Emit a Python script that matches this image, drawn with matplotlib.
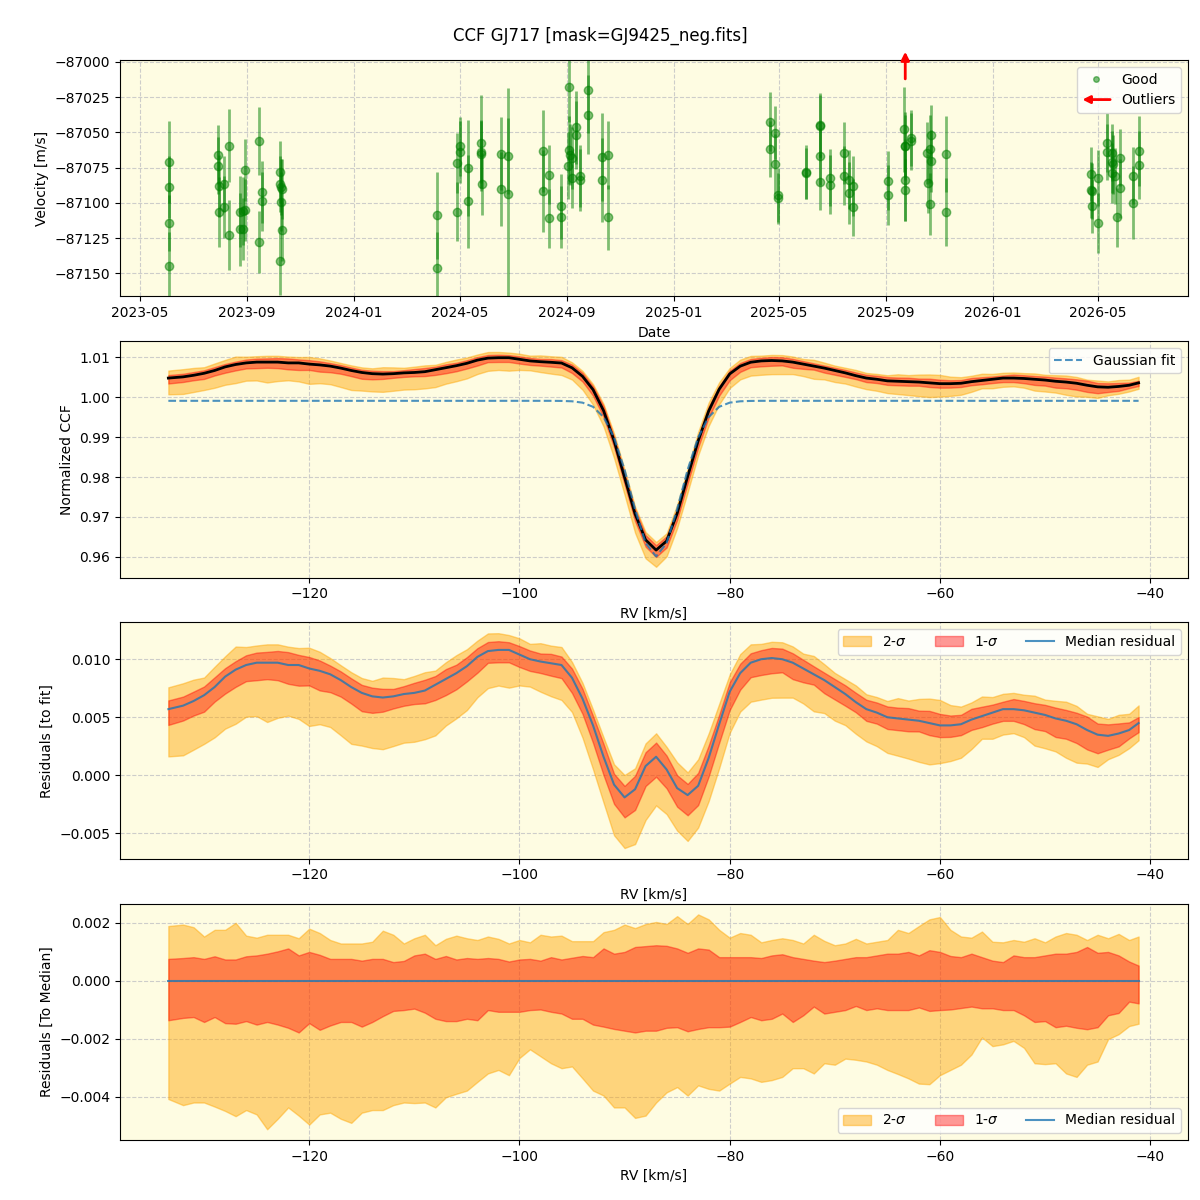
import numpy as np
import pandas as pd
import matplotlib
matplotlib.use("Agg")
import matplotlib.pyplot as plt
import matplotlib.dates as mdates
from matplotlib.lines import Line2D
from matplotlib.patches import FancyArrowPatch
from matplotlib.legend_handler import HandlerBase

# ---- top panel: RV time series (good points) ----
obs_dates = [
    "2023-06-03", "2023-06-03", "2023-06-03", "2023-06-03",
    "2023-07-30", "2023-07-30", "2023-07-31", "2023-07-31", "2023-08-05", "2023-08-05",
    "2023-08-11", "2023-08-11", "2023-08-24", "2023-08-24", "2023-08-27", "2023-08-27",
    "2023-08-30", "2023-08-29", "2023-09-14", "2023-09-14", "2023-09-18", "2023-09-18",
    "2023-10-08", "2023-10-09", "2023-10-09", "2023-10-10", "2023-10-10", "2023-10-11", "2023-10-11",
    "2024-04-05", "2024-04-05", "2024-04-28", "2024-04-28", "2024-05-02", "2024-05-02",
    "2024-05-11", "2024-05-11", "2024-05-25", "2024-05-25", "2024-05-26", "2024-05-27",
    "2024-06-17", "2024-06-17", "2024-06-25", "2024-06-25",
    "2024-08-05", "2024-08-05", "2024-08-11", "2024-08-11", "2024-08-25", "2024-08-25",
    "2024-09-03", "2024-09-03", "2024-09-04", "2024-09-02", "2024-09-07", "2024-09-07",
    "2024-09-11", "2024-09-11", "2024-09-16", "2024-09-16", "2024-09-25", "2024-09-25",
    "2024-10-11", "2024-10-11", "2024-10-18", "2024-10-18",
    "2025-04-21", "2025-04-21", "2025-04-27", "2025-04-27", "2025-04-30", "2025-04-30",
    "2025-06-01", "2025-06-01", "2025-06-18", "2025-06-18", "2025-06-18", "2025-06-18",
    "2025-06-29", "2025-06-29", "2025-07-15", "2025-07-15", "2025-07-21", "2025-07-21",
    "2025-07-25", "2025-07-25", "2025-09-03", "2025-09-03",
    "2025-09-22", "2025-09-23", "2025-09-23", "2025-09-23", "2025-09-23", "2025-09-30", "2025-09-30",
    "2025-10-18", "2025-10-21", "2025-10-23", "2025-10-23", "2025-10-19", "2025-10-21",
    "2025-11-09", "2025-11-09",
    "2026-04-23", "2026-04-24", "2026-04-25", "2026-04-25", "2026-05-01", "2026-05-01",
    "2026-05-12", "2026-05-12", "2026-05-18", "2026-05-18", "2026-05-19", "2026-05-18",
    "2026-05-21", "2026-05-27", "2026-05-27", "2026-05-23",
    "2026-06-11", "2026-06-11", "2026-06-18", "2026-06-18",
]
obs_rv = [
    -87071.0, -87088.8, -87114.3, -87145.0,
    -87066.0, -87073.6, -87088.0, -87106.4, -87086.7, -87103.3,
    -87059.5, -87123.0, -87106.2, -87118.8, -87106.0, -87118.8,
    -87105.2, -87076.7, -87056.0, -87127.9, -87092.1, -87099.0,
    -87141.4, -87078.0, -87086.7, -87088.6, -87099.3, -87090.2, -87119.3,
    -87108.8, -87146.0, -87071.7, -87106.4, -87059.8, -87064.0,
    -87075.2, -87098.8, -87057.4, -87064.0, -87065.5, -87086.7,
    -87065.2, -87090.2, -87067.1, -87093.8,
    -87063.0, -87091.7, -87080.2, -87111.0, -87102.4, -87110.2,
    -87017.6, -87062.4, -87065.7, -87073.6, -87068.3, -87082.6,
    -87046.4, -87051.7, -87081.2, -87083.6, -87020.2, -87037.4,
    -87067.4, -87083.8, -87066.0, -87110.2,
    -87042.4, -87061.7, -87050.2, -87072.4, -87094.5, -87096.9,
    -87078.3, -87079.0, -87045.0, -87045.7, -87067.1, -87085.0,
    -87082.1, -87087.1, -87064.3, -87080.7, -87083.6, -87092.9,
    -87088.1, -87103.3, -87084.3, -87094.5,
    -87047.9, -87059.5, -87060.0, -87083.8, -87091.0, -87054.0, -87056.4,
    -87064.3, -87061.7, -87051.7, -87070.2, -87086.0, -87100.7,
    -87065.2, -87106.4,
    -87079.5, -87090.7, -87091.4, -87102.1, -87082.4, -87114.3,
    -87057.4, -87064.0, -87064.3, -87070.7, -87072.6, -87078.8,
    -87081.2, -87067.9, -87089.8, -87110.2,
    -87080.7, -87100.0, -87063.1, -87073.1,
]
obs_err = [
    29, 22, 20, 24,
    21, 20, 22, 25, 20, 22,
    26, 25, 25, 26, 24, 22,
    22, 22, 24, 22, 22, 21,
    24, 22, 20, 20, 21, 21, 22,
    31, 25, 21, 21, 21, 22,
    34, 33, 34, 22, 24, 22,
    26, 26, 27, 75,
    29, 29, 21, 21, 23, 22,
    25, 24, 22, 24, 22, 21,
    26, 24, 22, 22, 30, 28,
    31, 30, 24, 23,
    21, 20, 19, 21, 19, 18,
    19, 18, 23, 22, 20, 20,
    20, 21, 22, 21, 21, 22,
    21, 20, 21, 21,
    30, 24, 22, 29, 22, 20, 20,
    22, 24, 21, 22, 21, 22,
    27, 24,
    19, 20, 20, 19, 20, 21,
    21, 20, 20, 22, 21, 21,
    20, 20, 21, 21,
    20, 26, 25, 24,
]
outlier_dates = ["2025-09-23"]

# ---- CCF panels ----
# km/s: -133.4, -132 ... -42, -41.1
rv_grid = np.concatenate(([-133.4], np.arange(-132.0, -41.0, 1.0), [-41.1]))

gauss_fit = [0.9991] * 37 + [
    0.99907, 0.99898, 0.99864, 0.9976, 0.99504, 0.98994, 0.98183, 0.97195, 0.96347,
    0.9601,
    0.96347, 0.97195, 0.98183, 0.98994, 0.99504, 0.9976, 0.99864, 0.99898, 0.99907,
] + [0.9991] * 37

median_resid = [
    0.0057, 0.0060, 0.0064, 0.0069, 0.0076, 0.0085, 0.0091, 0.0095, 0.0097, 0.0097,
    0.0097, 0.0095, 0.0095, 0.0092, 0.0090, 0.0087, 0.0082, 0.0076, 0.0071, 0.0068,
    0.0067, 0.0068, 0.0070, 0.0071, 0.0073, 0.0078, 0.0083, 0.0088, 0.0094, 0.0102,
    0.0107, 0.0108, 0.0108, 0.0104, 0.0100, 0.0098, 0.00965, 0.0095, 0.0084, 0.0066,
    0.0043, 0.0016, -0.0008, -0.0019, -0.0012, 0.0008, 0.0016, 0.0005, -0.0011, -0.0017,
    -0.0009, 0.0015, 0.0044, 0.0072, 0.0088, 0.0097, 0.0100, 0.0101, 0.0100, 0.0097,
    0.0092, 0.0087, 0.0082, 0.0076, 0.0070, 0.0063, 0.0057, 0.0054, 0.0050, 0.0049,
    0.0048, 0.0047, 0.0045, 0.0043, 0.0043, 0.0044, 0.0048, 0.0051, 0.0054, 0.0057,
    0.0057, 0.0056, 0.0054, 0.0052, 0.0049, 0.0047, 0.0044, 0.0039, 0.0035, 0.0034,
    0.0036, 0.0039, 0.0045,
]

# spread around the median (as seen in the bottom panel)
hi2 = [
    0.00188, 0.00193, 0.00184, 0.00152, 0.00175, 0.00175, 0.00199, 0.00155, 0.00148, 0.00158,
    0.00158, 0.00158, 0.00146, 0.00179, 0.00164, 0.00140, 0.00128, 0.00128, 0.00128, 0.00134,
    0.00172, 0.00158, 0.00128, 0.00146, 0.00158, 0.00122, 0.00144, 0.00155, 0.00146, 0.00140,
    0.00152, 0.00144, 0.00128, 0.00140, 0.00132, 0.00158, 0.00152, 0.00155, 0.00136, 0.00136,
    0.00136, 0.00167, 0.00175, 0.00193, 0.00181, 0.00195, 0.00202, 0.00195, 0.00222, 0.00195,
    0.00228, 0.00211, 0.00175, 0.00148, 0.00164, 0.00158, 0.00132, 0.00140, 0.00146, 0.00140,
    0.00128, 0.00158, 0.00137, 0.00122, 0.00128, 0.00144, 0.00128, 0.00134, 0.00140, 0.00175,
    0.00164, 0.00188, 0.00211, 0.00219, 0.00175, 0.00152, 0.00148, 0.00169, 0.00134, 0.00132,
    0.00140, 0.00134, 0.00146, 0.00132, 0.00152, 0.00164, 0.00158, 0.00140, 0.00158, 0.00146,
    0.00161, 0.00140, 0.00152,
]
hi1 = [
    0.00075, 0.00078, 0.00081, 0.00075, 0.00084, 0.00073, 0.00073, 0.00084, 0.00087, 0.00093,
    0.00101, 0.00111, 0.00087, 0.00099, 0.00089, 0.00075, 0.00075, 0.00075, 0.00069, 0.00075,
    0.00075, 0.00064, 0.00068, 0.00087, 0.00093, 0.00075, 0.00085, 0.00073, 0.00078, 0.00075,
    0.00078, 0.00075, 0.00066, 0.00073, 0.00075, 0.00069, 0.00081, 0.00073, 0.00079, 0.00085,
    0.00081, 0.00111, 0.00093, 0.00099, 0.00116, 0.00119, 0.00122, 0.00120, 0.00111, 0.00096,
    0.00111, 0.00107, 0.00081, 0.00081, 0.00081, 0.00081, 0.00078, 0.00087, 0.00091, 0.00081,
    0.00075, 0.00069, 0.00064, 0.00069, 0.00075, 0.00081, 0.00081, 0.00087, 0.00093, 0.00093,
    0.00099, 0.00087, 0.00105, 0.00099, 0.00085, 0.00081, 0.00093, 0.00081, 0.00069, 0.00064,
    0.00087, 0.00081, 0.00081, 0.00087, 0.00093, 0.00093, 0.00099, 0.00116, 0.00096, 0.00099,
    0.00087, 0.00066, 0.00052,
]
lo1 = [
    -0.00136, -0.00128, -0.00125, -0.00142, -0.00125, -0.00146, -0.00148, -0.00139, -0.00151, -0.00142,
    -0.00151, -0.00162, -0.00178, -0.00146, -0.00169, -0.00154, -0.00142, -0.00142, -0.00158, -0.00142,
    -0.00122, -0.00104, -0.00101, -0.00096, -0.00110, -0.00131, -0.00139, -0.00139, -0.00131, -0.00136,
    -0.00101, -0.00107, -0.00107, -0.00107, -0.00101, -0.00099, -0.00107, -0.00113, -0.00131, -0.00131,
    -0.00151, -0.00158, -0.00166, -0.00172, -0.00178, -0.00172, -0.00172, -0.00162, -0.00160, -0.00174,
    -0.00166, -0.00160, -0.00160, -0.00158, -0.00142, -0.00125, -0.00136, -0.00131, -0.00113, -0.00142,
    -0.00119, -0.00089, -0.00113, -0.00107, -0.00101, -0.00087, -0.00101, -0.00095, -0.00101, -0.00101,
    -0.00101, -0.00092, -0.00104, -0.00101, -0.00099, -0.00094, -0.00089, -0.00095, -0.00095, -0.00101,
    -0.00101, -0.00119, -0.00142, -0.00139, -0.00160, -0.00155, -0.00162, -0.00167, -0.00160, -0.00119,
    -0.00111, -0.00072, -0.00078,
]
lo2 = [
    -0.00407, -0.00428, -0.00419, -0.00419, -0.00433, -0.00448, -0.00466, -0.00445, -0.00460, -0.00511,
    -0.00475, -0.00436, -0.00464, -0.00495, -0.00460, -0.00454, -0.00475, -0.00489, -0.00454, -0.00445,
    -0.00445, -0.00428, -0.00419, -0.00421, -0.00419, -0.00436, -0.00401, -0.00389, -0.00378, -0.00348,
    -0.00319, -0.00307, -0.00325, -0.00266, -0.00236, -0.00260, -0.00284, -0.00301, -0.00295, -0.00336,
    -0.00378, -0.00395, -0.00436, -0.00436, -0.00472, -0.00464, -0.00419, -0.00384, -0.00366, -0.00395,
    -0.00360, -0.00372, -0.00378, -0.00354, -0.00331, -0.00336, -0.00348, -0.00342, -0.00331, -0.00301,
    -0.00301, -0.00319, -0.00284, -0.00289, -0.00268, -0.00272, -0.00278, -0.00289, -0.00307, -0.00321,
    -0.00336, -0.00354, -0.00356, -0.00325, -0.00307, -0.00289, -0.00254, -0.00195, -0.00225, -0.00219,
    -0.00207, -0.00231, -0.00284, -0.00287, -0.00284, -0.00319, -0.00331, -0.00289, -0.00278, -0.00201,
    -0.00184, -0.00156, -0.00148,
]


class ArrowHandler(HandlerBase):
    # legend entry: red arrow pointing left
    def create_artists(self, legend, orig_handle, xdescent, ydescent,
                       width, height, fontsize, trans):
        y = height / 2 - ydescent
        p = FancyArrowPatch((width - xdescent, y), (-xdescent, y), arrowstyle='-|>',
                            mutation_scale=11, lw=2, color='red', transform=trans,
                            shrinkA=0, shrinkB=0)
        return [p]


gfit = np.array(gauss_fit)
med = np.array(median_resid)
ccf_med = gfit + med

bg = '#fefce2'
grid_kw = dict(color='#c8c8c8', linestyle='--', linewidth=0.8, alpha=0.9)

fig, axes = plt.subplots(4, 1, figsize=(12, 12))
fig.subplots_adjust(left=0.1, right=0.99, top=0.95, bottom=0.05, hspace=0.19)
fig.suptitle('CCF GJ717 [mask=GJ9425_neg.fits]', fontsize=12, y=0.978)

for ax in axes:
    ax.set_facecolor(bg)
    ax.grid(True, **grid_kw)
    ax.set_axisbelow(True)

# ---- panel 1 ----
ax = axes[0]
dts = pd.to_datetime(obs_dates)
ax.errorbar(dts, obs_rv, yerr=obs_err, fmt='o', color='green', alpha=0.5,
            markersize=6, elinewidth=2, capsize=0)
for d in pd.to_datetime(outlier_dates):
    ax.annotate('', xy=(d, 1.035), xycoords=('data', 'axes fraction'),
                xytext=(d, 0.92), textcoords=('data', 'axes fraction'),
                arrowprops=dict(arrowstyle='-|>', color='red', lw=2, mutation_scale=12,
                                shrinkA=0, shrinkB=0),
                annotation_clip=False)
ax.set_ylim(-87166.4, -86998.6)
ax.set_yticks([-87000, -87025, -87050, -87075, -87100, -87125, -87150])
ax.xaxis.set_major_locator(mdates.MonthLocator(bymonth=[1, 5, 9]))
ax.xaxis.set_major_formatter(mdates.DateFormatter('%Y-%m'))
ax.set_xlabel('Date')
ax.set_ylabel('Velocity [m/s]')
good_h = Line2D([], [], marker='o', ls='none', color='green', alpha=0.5, markersize=4)
out_h = Line2D([], [], color='red')
ax.legend([good_h, out_h], ['Good', 'Outliers'], loc='upper right',
          handler_map={out_h: ArrowHandler()})

# ---- panel 2 ----
ax = axes[1]
ax.fill_between(rv_grid, ccf_med + np.array(lo2), ccf_med + np.array(hi2),
                color='orange', alpha=0.45)
ax.fill_between(rv_grid, ccf_med + np.array(lo1), ccf_med + np.array(hi1),
                color='red', alpha=0.4)
ax.plot(rv_grid, ccf_med, color='black', lw=2)
ax.plot(rv_grid, gfit, color='C0', ls='--', lw=1.5, alpha=0.8, label='Gaussian fit')
ax.set_xlim(-138.0, -36.4)
ax.set_xlabel('RV [km/s]')
ax.set_ylabel('Normalized CCF')
ax.legend(loc='upper right')

# ---- panel 3 ----
ax = axes[2]
ax.fill_between(rv_grid, med + np.array(lo2), med + np.array(hi2),
                color='orange', alpha=0.45, label='2-$\\sigma$')
ax.fill_between(rv_grid, med + np.array(lo1), med + np.array(hi1),
                color='red', alpha=0.4, label='1-$\\sigma$')
ax.plot(rv_grid, med, color='C0', lw=1.5, alpha=0.8, label='Median residual')
ax.set_xlim(-138.0, -36.4)
ax.set_xlabel('RV [km/s]')
ax.set_ylabel('Residuals [to fit]')
ax.legend(loc='upper right', ncol=3)

# ---- panel 4 ----
ax = axes[3]
ax.fill_between(rv_grid, lo2, hi2, color='orange', alpha=0.45, label='2-$\\sigma$')
ax.fill_between(rv_grid, lo1, hi1, color='red', alpha=0.4, label='1-$\\sigma$')
ax.plot(rv_grid, med - med, color='C0', lw=1.5, alpha=0.8, label='Median residual')
ax.set_xlim(-138.0, -36.4)
ax.set_xlabel('RV [km/s]')
ax.set_ylabel('Residuals [To Median]')
ax.legend(loc='lower right', ncol=3)

fig.savefig('out.png', dpi=100)
